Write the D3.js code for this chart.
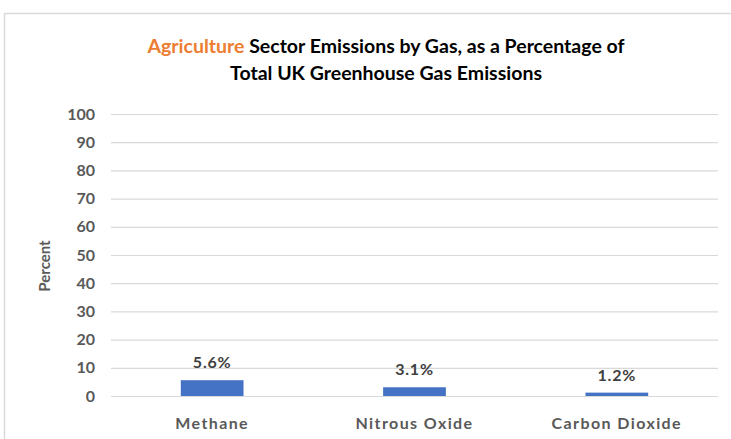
<!DOCTYPE html>
<html><head><meta charset="utf-8">
<script src="https://cdn.jsdelivr.net/npm/d3@7"></script>
<style>body{margin:0;background:#fff}svg{display:block}</style>
</head><body>
<svg id="c" width="731" height="439"></svg>
<script>
const categories = ["Methane", "Nitrous Oxide", "Carbon Dioxide"];
const values = [5.6, 3.1, 1.2];
const valueLabels = ["5.6%", "3.1%", "1.2%"];
const yTicks = [0,10,20,30,40,50,60,70,80,90,100];

const svg = d3.select("#c");
const font = "Lato, 'Open Sans', sans-serif";
svg.append("rect").attr("x",4.5).attr("y",13.5).attr("width",800).attr("height",500)
  .attr("fill","#fff").attr("stroke","#d9d9d9").attr("stroke-width",1.5);

const m = {l:111, r:718, t:114, b:396};
const x = d3.scaleBand().domain(categories).range([m.l, m.r]).paddingInner(0.69).paddingOuter(0.345);
const y = d3.scaleLinear().domain([0,100]).range([m.b, m.t]);

const yAxis = svg.append("g").attr("transform",`translate(${m.l},0)`)
  .call(d3.axisLeft(y).tickValues(yTicks).tickSize(-(m.r-m.l)).tickPadding(16));
yAxis.select(".domain").remove();
yAxis.selectAll(".tick line").attr("stroke","#d9d9d9").attr("stroke-width",1.2);
yAxis.selectAll(".tick text").attr("fill","#595959").attr("font-family",font)
  .attr("font-size",16).attr("font-weight","bold");

svg.selectAll(".bar").data(values).join("rect").attr("class","bar")
  .attr("x",(d,i)=>x(categories[i])).attr("width",x.bandwidth())
  .attr("y",d=>y(d)).attr("height",d=>y(0)-y(d)).attr("fill","#4472C4");

svg.selectAll(".vl").data(values).join("text").attr("class","vl")
  .attr("x",(d,i)=>x(categories[i])+x.bandwidth()/2).attr("y",d=>y(d)-12)
  .attr("text-anchor","middle").attr("fill","#404040").attr("font-family",font)
  .attr("font-size",16).attr("letter-spacing",0.8).attr("font-weight","bold").text((d,i)=>valueLabels[i]);

svg.selectAll(".cl").data(categories).join("text").attr("class","cl")
  .attr("x",d=>x(d)+x.bandwidth()/2).attr("y",429)
  .attr("text-anchor","middle").attr("fill","#595959").attr("font-family",font)
  .attr("font-size",16).attr("letter-spacing",1.4).attr("font-weight","bold").text(d=>d);

svg.append("text").attr("transform","translate(50,266) rotate(-90)")
  .attr("text-anchor","middle").attr("fill","#595959").attr("font-family",font)
  .attr("font-size",15).attr("font-weight","bold").text("Percent");

const t1 = svg.append("text").attr("x",386).attr("y",53).attr("text-anchor","middle")
  .attr("font-family",font).attr("font-size",19.5).attr("font-weight","bold").attr("fill","#000");
t1.append("tspan").attr("fill","#ED7D31").text("Agriculture");
t1.append("tspan").text(" Sector Emissions by Gas, as a Percentage of");
svg.append("text").attr("x",386).attr("y",80).attr("text-anchor","middle")
  .attr("font-family",font).attr("font-size",19.5).attr("font-weight","bold").attr("fill","#000")
  .text("Total UK Greenhouse Gas Emissions");
</script>
</body></html>
